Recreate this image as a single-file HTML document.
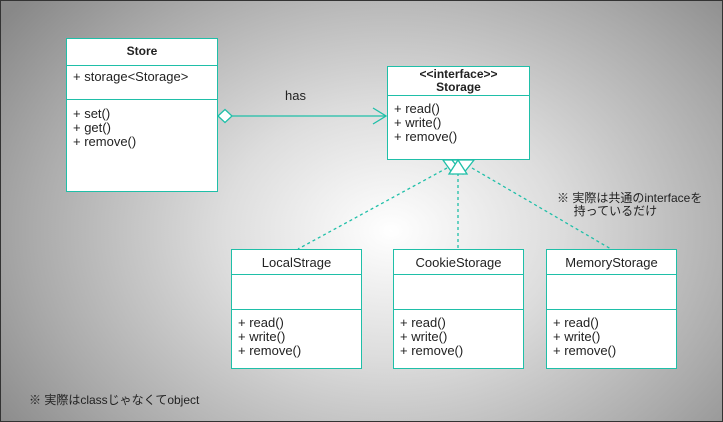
<!DOCTYPE html>
<html><head><meta charset="utf-8"><style>
body{margin:0}
#c{position:relative;width:721px;height:420px;border:1px solid #333;overflow:hidden;
background:radial-gradient(ellipse 480px 360px at 390px 230px,#fff 0%,#ddd 35%,#aaa 75%,#888 100%);
font-family:"Liberation Sans","Noto Sans CJK JP",sans-serif;font-size:13px;color:#222}
.b{position:absolute;background:#fff;border:1.5px solid #1fbfa8;box-sizing:border-box}
.h{border-bottom:1.5px solid #1fbfa8;text-align:center;box-sizing:border-box}
.s{border-bottom:1.5px solid #1fbfa8;box-sizing:border-box}
.m{padding:3px 6px;line-height:14px}
.t{position:absolute;white-space:nowrap}
</style></head><body><div id="c">
<div class="b" style="left:65px;top:37px;width:152px;height:154px">
<div class="h" style="height:27px;line-height:25px;font-weight:bold;font-size:12px">Store</div>
<div class="s m" style="height:34px;padding-top:4px">+ storage&lt;Storage&gt;</div>
<div class="m" style="padding-top:7px">+ set()<br>+ get()<br>+ remove()</div></div>
<div class="b" style="left:386px;top:65px;width:143px;height:94px">
<div class="h" style="height:29px;font-weight:bold;font-size:12px;line-height:13px;padding-top:1px">&lt;&lt;interface&gt;&gt;<br>Storage</div>
<div class="m" style="padding-top:6px">+ read()<br>+ write()<br>+ remove()</div></div>
<div class="b" style="left:230px;top:248px;width:131px;height:120px">
<div class="h" style="height:25px;line-height:25px">LocalStrage</div><div class="s" style="height:35px"></div>
<div class="m" style="padding-top:6px">+ read()<br>+ write()<br>+ remove()</div></div>
<div class="b" style="left:392px;top:248px;width:131px;height:120px">
<div class="h" style="height:25px;line-height:25px">CookieStorage</div><div class="s" style="height:35px"></div>
<div class="m" style="padding-top:6px">+ read()<br>+ write()<br>+ remove()</div></div>
<div class="b" style="left:545px;top:248px;width:131px;height:120px">
<div class="h" style="height:25px;line-height:25px">MemoryStorage</div><div class="s" style="height:35px"></div>
<div class="m" style="padding-top:6px">+ read()<br>+ write()<br>+ remove()</div></div>
<svg style="position:absolute;left:0;top:0" width="721" height="420">
<g stroke="#1fbfa8" fill="none" stroke-width="1.3">
<line x1="231" y1="115" x2="385" y2="115"/>
<polyline points="372,107 385,115 372,123"/>
<polygon points="217,115 224,108.5 231,115 224,121.5" fill="#fff"/>
<g stroke-dasharray="3,3"><line x1="446" y1="167" x2="297" y2="248"/><line x1="457" y1="172" x2="457" y2="248"/><line x1="471" y1="167" x2="610" y2="248"/></g>
<polygon points="442,159 464,159 452,173" fill="#fff"/>
<polygon points="451,159 473,159 462,173" fill="#fff"/>
<polygon points="448,173 457,159 466,173" fill="#fff"/>
</g></svg>
<div class="t" style="left:284px;top:87px">has</div>
<div class="t" style="left:556px;top:191px;line-height:13px;font-size:12px">※ 実際は共通のinterfaceを<br>&nbsp;&nbsp;&nbsp;&nbsp;&nbsp;持っているだけ</div>
<div class="t" style="left:28px;top:390px;font-size:12px">※ 実際はclassじゃなくてobject</div>
</div></body></html>
